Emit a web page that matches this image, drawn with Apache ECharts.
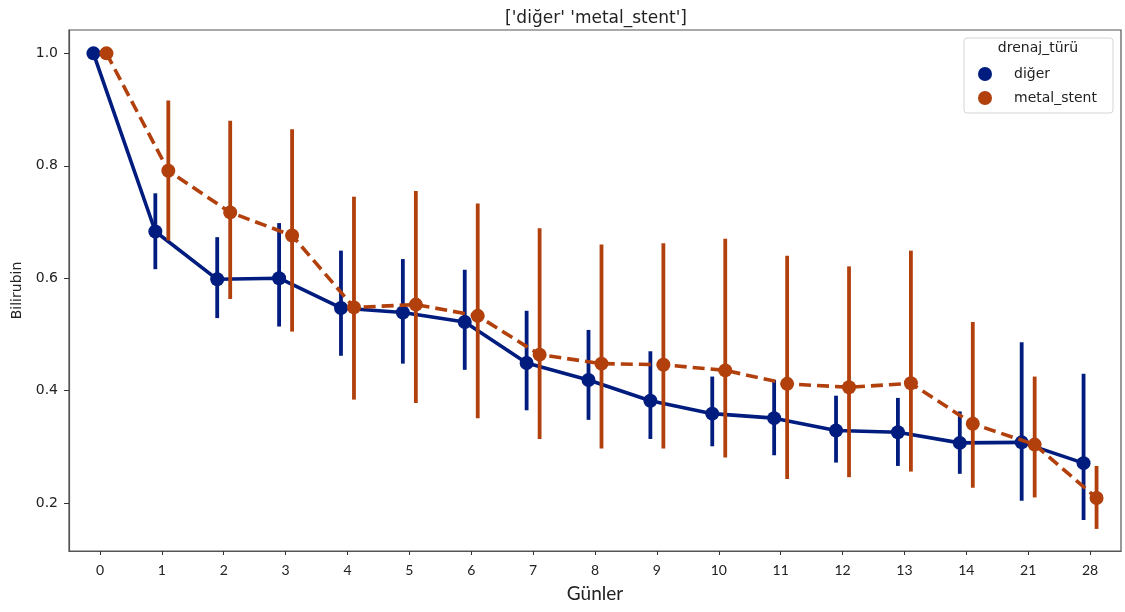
<!DOCTYPE html>
<html>
<head>
<meta charset="utf-8">
<script src="https://cdn.jsdelivr.net/npm/echarts@6/dist/echarts.min.js"></script>
<style>
  html, body { margin: 0; padding: 0; background: #ffffff; }
  #chart { width: 1125px; height: 612px; }
</style>
</head>
<body>
<div id="chart"></div>
<script>
// Day labels along the x axis
const days = ['0', '1', '2', '3', '4', '5', '6', '7', '8', '9', '10', '11', '12', '13', '14', '21', '28'];

// Mean bilirubin (normalised) and 95% CI bounds, drainage type "diğer"
const diger     = [1.000, 0.683, 0.598, 0.600, 0.547, 0.539, 0.522, 0.449, 0.419, 0.382, 0.359, 0.351, 0.329, 0.326, 0.307, 0.308, 0.271];
const digerLow  = [1.000, 0.616, 0.529, 0.514, 0.462, 0.448, 0.437, 0.365, 0.348, 0.314, 0.301, 0.285, 0.272, 0.266, 0.252, 0.204, 0.170];
const digerHigh = [1.000, 0.751, 0.673, 0.698, 0.649, 0.634, 0.615, 0.542, 0.508, 0.470, 0.425, 0.419, 0.391, 0.387, 0.363, 0.486, 0.430];

// Mean bilirubin (normalised) and 95% CI bounds, drainage type "metal_stent"
const metal     = [1.000, 0.791, 0.717, 0.676, 0.548, 0.553, 0.533, 0.464, 0.448, 0.446, 0.436, 0.412, 0.406, 0.413, 0.341, 0.304, 0.209];
const metalLow  = [1.000, 0.667, 0.563, 0.505, 0.384, 0.378, 0.351, 0.314, 0.297, 0.297, 0.281, 0.243, 0.246, 0.256, 0.227, 0.210, 0.154];
const metalHigh = [1.000, 0.916, 0.880, 0.865, 0.745, 0.755, 0.733, 0.689, 0.660, 0.662, 0.670, 0.640, 0.621, 0.649, 0.522, 0.425, 0.266];

// Y tick values
const yTicks = [0.2, 0.4, 0.6, 0.8, 1.0];

const BLUE = '#001c7f';
const ORANGE = '#b1400d';
const DODGE = 0.105;   // horizontal shift of each group around its day
const LW = 3.6;

function points(vals, shift) {
  return vals.map((v, i) => [i + shift, v]);
}
function bars(lo, hi, shift) {
  return lo.map((l, i) => [i + shift, l, hi[i]]).filter(d => d[1] !== d[2]);
}
function errRender(color) {
  return function (params, api) {
    const a = api.coord([api.value(0), api.value(1)]);
    const b = api.coord([api.value(0), api.value(2)]);
    return {
      type: 'line',
      shape: { x1: a[0], y1: a[1], x2: b[0], y2: b[1] },
      style: { stroke: color, lineWidth: 3.8 }
    };
  };
}

const chart = echarts.init(document.getElementById('chart'), null, { renderer: 'canvas' });

chart.setOption({
  animation: false,
  backgroundColor: '#ffffff',
  title: {
    text: "['diğer' 'metal_stent']",
    left: 591, top: 5, textAlign: 'center',
    textStyle: { fontFamily: 'DejaVu Sans', fontSize: 17, fontWeight: 'normal', color: '#222' }
  },
  grid: {
    left: 69, right: 4, top: 30, bottom: 61,
    show: true, borderColor: '#555', borderWidth: 1.2, backgroundColor: 'transparent'
  },
  xAxis: {
    type: 'value', min: -0.5, max: 16.5,
    name: 'Günler', nameLocation: 'middle', nameGap: 33,
    nameTextStyle: { fontFamily: 'Lato', fontSize: 19, color: '#222' },
    axisLine: { show: true, onZero: false, lineStyle: { color: '#555', width: 1.2 } },
    axisTick: { show: true, length: 4, customValues: days.map((d, i) => i), lineStyle: { color: '#333' } },
    axisLabel: {
      customValues: days.map((d, i) => i),
      formatter: v => days[Math.round(v)],
      fontFamily: 'Lato', fontSize: 14, color: '#222', margin: 12
    },
    splitLine: { show: false }
  },
  yAxis: {
    type: 'value', min: 0.1147, max: 1.0415,
    name: 'Bilirubin', nameLocation: 'middle', nameGap: 41, nameRotate: 90,
    nameTextStyle: { fontFamily: 'DejaVu Sans', fontSize: 14, color: '#222' },
    axisLine: { show: true, onZero: false, lineStyle: { color: '#555', width: 1.2 } },
    axisTick: { show: true, length: 5, customValues: yTicks, lineStyle: { color: '#333' } },
    axisLabel: {
      customValues: yTicks,
      formatter: v => v.toFixed(1),
      fontFamily: 'DejaVu Sans', fontSize: 14, color: '#222', margin: 11
    },
    splitLine: { show: false }
  },
  legend: {
    data: ['diğer', 'metal_stent'],
    orient: 'vertical', left: 978, top: 67, padding: 0,
    icon: 'circle', itemWidth: 14, itemHeight: 14, itemGap: 10,
    textStyle: { fontFamily: 'DejaVu Sans', fontSize: 14, color: '#222', padding: [0, 0, 0, 17] }
  },
  graphic: [
    {
      type: 'rect', z: -1,
      shape: { x: 964, y: 38, width: 149, height: 75, r: 3 },
      style: { fill: 'rgba(255,255,255,0.85)', stroke: '#d4d4d4', lineWidth: 1 }
    },
    {
      type: 'text', z: 10,
      style: {
        x: 1038, y: 48, text: 'drenaj_türü', align: 'center', verticalAlign: 'middle',
        font: '14px "DejaVu Sans"', fill: '#222'
      }
    }
  ],
  series: [
    {
      type: 'custom', name: 'diğer CI', z: 2,
      renderItem: errRender(BLUE),
      encode: { x: 0, y: [1, 2] },
      data: bars(digerLow, digerHigh, -DODGE)
    },
    {
      type: 'line', name: 'diğer', z: 3,
      data: points(diger, -DODGE),
      symbol: 'circle', symbolSize: 14, showSymbol: true,
      itemStyle: { color: BLUE },
      lineStyle: { color: BLUE, width: LW, type: 'solid' }
    },
    {
      type: 'custom', name: 'metal_stent CI', z: 4,
      renderItem: errRender(ORANGE),
      encode: { x: 0, y: [1, 2] },
      data: bars(metalLow, metalHigh, DODGE)
    },
    {
      type: 'line', name: 'metal_stent', z: 5,
      data: points(metal, DODGE),
      symbol: 'circle', symbolSize: 14, showSymbol: true,
      itemStyle: { color: ORANGE },
      lineStyle: { color: ORANGE, width: LW, type: [12, 6] }
    }
  ]
});
</script>
</body>
</html>
